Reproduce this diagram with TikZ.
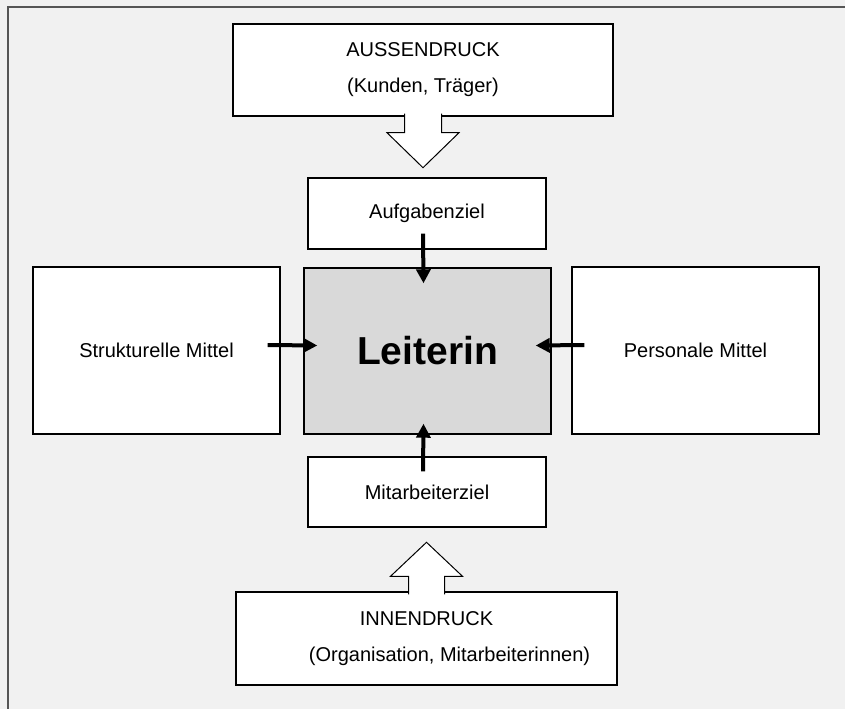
\documentclass[tikz,border=0pt]{standalone}
\usepackage{fontspec}
\setmainfont{Liberation Sans}
\usetikzlibrary{arrows.meta, calc}
\definecolor{hintergrund}{HTML}{F1F1F1}
\definecolor{leitgrau}{HTML}{D9D9D9}
\definecolor{rahmen}{HTML}{555555}

\begin{document}
\begin{tikzpicture}[x=1pt, y=-1pt,
  box/.style={draw=black, line width=1.4pt, fill=white, inner sep=0pt, align=center, font=\fontsize{20}{36}\selectfont},
  pfeil/.style={line width=4pt, -{Triangle[length=14pt, width=14pt]}},
  hohl/.style={draw=black, line width=1pt, fill=white, line join=miter}]
\fill[hintergrund] (0,0) rectangle (845,709);
\useasboundingbox (0,0) rectangle (845,709);
\draw[rahmen, line width=2pt] (845,7) -- (8,7) -- (8,709);

% Druck von aussen und innen
\node[box, minimum width=380pt, minimum height=92pt] (aussen) at (423,70) {AUSSENDRUCK\\(Kunden, Träger)};
\node[box, minimum width=381pt, minimum height=93pt] (innen) at (426.5,638.5) {INNENDRUCK\\\hspace*{46pt}(Organisation, Mitarbeiterinnen)};

% Ziele und Mittel
\node[box, minimum width=238pt, minimum height=71pt] (aufgabe) at (427,213.5) {Aufgabenziel};
\node[box, minimum width=238pt, minimum height=70pt] (mitarbeiter) at (427,492) {Mitarbeiterziel};
\node[box, minimum width=247pt, minimum height=167pt] (struktur) at (156.5,350.5) {Strukturelle Mittel};
\node[box, minimum width=247pt, minimum height=167pt] (personal) at (695.5,350.5) {Personale Mittel};
\node[box, fill=leitgrau, minimum width=247pt, minimum height=166pt, font=\fontsize{39}{47}\selectfont\bfseries] (leiterin) at (427.5,351) {Leiterin};

% Blockpfeile
\path[hohl] ($(aussen.south)+(-18.5,-3)$) -- ++(0,19) -- ++(-17.5,0) -- ++(36,35) -- ++(36,-35) -- ++(-17.5,0) -- ++(0,-19);
\path[hohl] ($(innen.north)+(-18,3)$) -- ++(0,-18) -- ++(-18,0) -- ++(36,-34) -- ++(36,34) -- ++(-18,0) -- ++(0,18);

% Pfeile zur Leiterin
\draw[pfeil] ([xshift=-4pt, yshift=16pt]aufgabe.south) -- ([xshift=-4pt, yshift=-16pt]leiterin.north);
\draw[pfeil] ([xshift=-4pt, yshift=-15pt]mitarbeiter.north) -- ([xshift=-4pt, yshift=11pt]leiterin.south);
\draw[pfeil] ([xshift=-13pt, yshift=5.5pt]struktur.east) -- ([xshift=14pt, yshift=5.5pt]leiterin.west);
\draw[pfeil] ([xshift=13pt, yshift=5.5pt]personal.west) -- ([xshift=-16pt, yshift=5.5pt]leiterin.east);
\end{tikzpicture}
\end{document}
